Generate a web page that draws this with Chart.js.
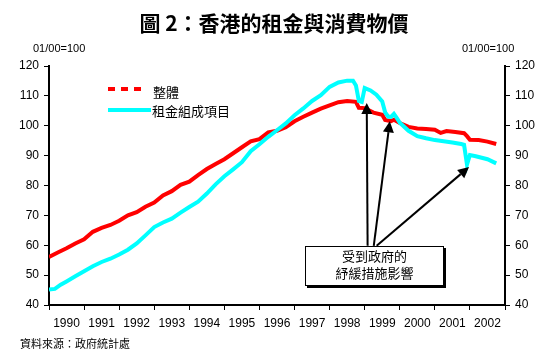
<!DOCTYPE html>
<html>
<head>
<meta charset="utf-8">
<script src="https://cdn.jsdelivr.net/npm/chart.js@4"></script>
<style>
    body { margin: 0; background: #fff; }
    #wrap { position: relative; width: 548px; height: 361px; }
    #rentChart { display: block; }
    .txt { position: absolute; white-space: nowrap; color: #000; line-height: 1; }
    #title { left: 0; width: 548px; top: 7px; text-align: center; font: bold 21px "Noto Sans CJK TC", sans-serif; }
    .unit { top: 42px; font: 11px "Liberation Sans", Arial, sans-serif; }
    #source { left: 20px; top: 335px; font: 11px "Noto Sans CJK TC", sans-serif; }
</style>
</head>
<body>
<div id="wrap">
    <canvas id="rentChart" width="548" height="361"></canvas>
    <div class="txt" id="title">圖 2：香港的租金與消費物價</div>
    <div class="txt unit" style="left:33px">01/00=100</div>
    <div class="txt unit" style="left:462px">01/00=100</div>
    <div class="txt" id="source">資料來源：政府統計處</div>
</div>
<script>
// Data (months counted from Jan 1990)
const years = ["1990", "1991", "1992", "1993", "1994", "1995", "1996",
    "1997", "1998", "1999", "2000", "2001", "2002"];
const seriesNames = ["整體", "租金組成項目"];

const cpiMonths = [0, 3, 6, 9, 12, 15, 18, 21, 24, 27, 30, 33, 36, 39, 42, 45, 48, 51,
    54, 57, 60, 63, 66, 69, 72, 75, 78, 81, 84, 87, 90, 93, 96, 99, 102, 105,
    106, 108, 111, 114, 115, 117, 118, 120, 123, 126, 129, 132, 134, 136, 139,
    142, 143, 144, 147, 150, 153];
const cpiValues = [56.1, 57.6, 59.0, 60.6, 62.0, 64.5, 65.8, 66.8, 68.2, 70.0, 71.1,
    72.9, 74.3, 76.7, 78.1, 80.2, 81.3, 83.5, 85.5, 87.2, 88.8, 90.8, 92.8, 94.8,
    95.5, 97.8, 98.3, 99.5, 101.5, 103.0, 104.4, 105.7, 106.8, 107.9, 108.3, 108.0,
    106.0, 105.9, 104.4, 103.7, 101.9, 101.5, 102.0, 100.9, 99.6, 99.1, 98.9, 98.7,
    97.6, 98.2, 97.9, 97.5, 96.5, 95.3, 95.2, 94.7, 93.9];

const rentMonths = [0, 2, 4, 6, 9, 12, 15, 18, 21, 24, 27, 30, 33, 36, 39, 42, 45, 48,
    51, 54, 57, 60, 63, 66, 69, 72, 75, 78, 81, 84, 87, 90, 93, 96, 99, 102, 104,
    105, 106, 107, 108, 110, 112, 114, 115, 116, 117, 118, 119, 120, 123, 126, 129,
    132, 135, 138, 141, 142, 143, 144, 146, 150, 153];
const rentValues = [45.2, 45.4, 46.8, 47.9, 49.6, 51.3, 53.0, 54.4, 55.5, 56.9, 58.5,
    60.6, 63.3, 66.1, 67.6, 68.9, 70.9, 72.8, 74.6, 77.3, 80.4, 83.1, 85.4, 87.8,
    91.5, 93.8, 96.3, 98.5, 100.8, 103.5, 105.8, 108.3, 110.2, 113.0, 114.5, 115.1,
    115.1, 113.5, 108.3, 108.0, 112.6, 111.8, 110.4, 108.1, 104.5, 103.1, 103.0,
    104.0, 102.6, 101.0, 98.3, 96.5, 95.8, 95.2, 94.8, 94.4, 93.9, 93.6, 87.0, 90.2,
    89.8, 88.8, 87.4];

const noteLines = ["受到政府的", "紓緩措施影響"];

// annotation geometry in data units (month, index value)
const noteBox = { left: 87.5, right: 135.2, top: 59.8, bottom: 46.4 };
const arrows = [
    { from: [109.0, 59.8], to: [108.7, 107.6] },
    { from: [111.1, 59.8], to: [116.6, 101.5] },
    { from: [112.1, 59.8], to: [143.7, 86.2] }
];

const toPoints = (xs, ys) => xs.map((m, i) => ({ x: m, y: ys[i] }));

const overlay = {
    id: "overlay",
    afterDatasetsDraw(chart) {
        const ctx = chart.ctx;
        const xs = chart.scales.x, ys = chart.scales.y;
        const px = m => xs.getPixelForValue(m);
        const py = v => ys.getPixelForValue(v);
        const area = chart.chartArea;
        ctx.save();

        // legend inside the plot
        const lx = area.left + 59;
        ctx.lineWidth = 4;
        ctx.strokeStyle = "#ff0000";
        ctx.setLineDash([7, 6]);
        ctx.beginPath(); ctx.moveTo(lx, 89); ctx.lineTo(lx + 36, 89); ctx.stroke();
        ctx.setLineDash([]);
        ctx.strokeStyle = "#00ffff";
        ctx.beginPath(); ctx.moveTo(lx, 110); ctx.lineTo(lx + 43, 110); ctx.stroke();
        ctx.fillStyle = "#000";
        ctx.font = '13px "Noto Sans CJK TC"';
        ctx.textBaseline = "middle";
        ctx.textAlign = "left";
        ctx.fillText(seriesNames[0], lx + 45, 92);
        ctx.fillText(seriesNames[1], lx + 44, 111);

        // arrows
        ctx.strokeStyle = "#000";
        ctx.lineWidth = 2;
        arrows.forEach(a => {
            const x0 = px(a.from[0]), y0 = py(a.from[1]);
            const x1 = px(a.to[0]), y1 = py(a.to[1]);
            const ang = Math.atan2(y1 - y0, x1 - x0);
            const len = 11, half = 5.5;
            const bx = x1 - len * Math.cos(ang), by = y1 - len * Math.sin(ang);
            ctx.beginPath(); ctx.moveTo(x0, y0); ctx.lineTo(bx, by); ctx.stroke();
            ctx.beginPath();
            ctx.moveTo(x1, y1);
            ctx.lineTo(bx + half * Math.sin(ang), by - half * Math.cos(ang));
            ctx.lineTo(bx - half * Math.sin(ang), by + half * Math.cos(ang));
            ctx.closePath();
            ctx.fill();
        });

        // note box with shadow
        const x0 = Math.round(px(noteBox.left)), x1 = Math.round(px(noteBox.right));
        const y0 = Math.round(py(noteBox.top)), y1 = Math.round(py(noteBox.bottom));
        ctx.fillStyle = "#000";
        ctx.fillRect(x0 + 2, y0 + 2, x1 - x0, y1 - y0);
        ctx.fillStyle = "#fff";
        ctx.fillRect(x0, y0, x1 - x0, y1 - y0);
        ctx.lineWidth = 1;
        ctx.strokeRect(x0 + 0.5, y0 + 0.5, x1 - x0 - 1, y1 - y0 - 1);
        ctx.fillStyle = "#000";
        ctx.textAlign = "center";
        ctx.fillText(noteLines[0], (x0 + x1) / 2, y0 + 10);
        ctx.fillText(noteLines[1], (x0 + x1) / 2, y0 + 27);
        ctx.restore();
    }
};

const tickFont = { family: '"Liberation Sans", Arial, sans-serif', size: 12 };

new Chart(document.getElementById("rentChart"), {
    type: "line",
    data: {
        datasets: [
            {
                label: seriesNames[0],
                data: toPoints(cpiMonths, cpiValues),
                borderColor: "#ff0000",
                borderWidth: 4,
                order: 1
            },
            {
                label: seriesNames[1],
                data: toPoints(rentMonths, rentValues),
                borderColor: "#00ffff",
                borderWidth: 4,
                order: 0
            }
        ]
    },
    options: {
        responsive: false,
        animation: false,
        devicePixelRatio: 1,
        layout: { padding: { top: 66, left: 0, right: 0, bottom: 0 } },
        elements: { point: { radius: 0 }, line: { tension: 0 } },
        plugins: { legend: { display: false }, tooltip: { enabled: false } },
        scales: {
            x: { type: "linear", display: false, min: 0, max: 156 },
            years: {
                type: "category",
                position: "bottom",
                labels: years,
                offset: true,
                grid: { offset: true, drawOnChartArea: false, tickLength: 5, tickColor: "#000", tickWidth: 1 },
                border: { color: "#000", width: 2 },
                ticks: { color: "#000", font: tickFont, padding: 6, maxRotation: 0, autoSkip: false },
                afterFit(scale) { scale.height = 56; }
            },
            y: {
                position: "left",
                min: 40, max: 120,
                ticks: { stepSize: 10, color: "#000", font: tickFont, padding: 5 },
                grid: { drawOnChartArea: false, tickLength: 5, tickColor: "#000", tickWidth: 1 },
                border: { color: "#000", width: 2 },
                afterFit(scale) { scale.width = 49; }
            },
            y2: {
                position: "right",
                min: 40, max: 120,
                ticks: { stepSize: 10, color: "#000", font: tickFont, padding: 5 },
                grid: { drawOnChartArea: false, tickLength: 5, tickColor: "#000", tickWidth: 1 },
                border: { color: "#000", width: 2 },
                afterFit(scale) { scale.width = 43; }
            }
        }
    },
    plugins: [overlay]
});
</script>
</body>
</html>
